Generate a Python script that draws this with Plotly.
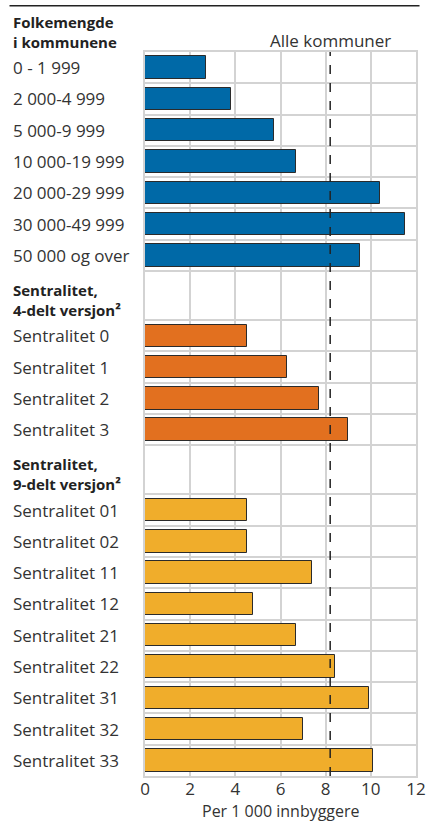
import plotly.graph_objects as go

# --- data -------------------------------------------------------------
pop_header = ["Folkemengde", "i kommunene"]
pop_labels = ["0 - 1 999", "2 000-4 999", "5 000-9 999", "10 000-19 999",
              "20 000-29 999", "30 000-49 999", "50 000 og over"]
pop_values = [2.7, 3.8, 5.7, 6.7, 10.4, 11.5, 9.5]

sent4_header = ["Sentralitet,", "4-delt versjon²"]
sent4_labels = ["Sentralitet 0", "Sentralitet 1", "Sentralitet 2", "Sentralitet 3"]
sent4_values = [4.5, 6.3, 7.7, 9.0]

sent9_header = ["Sentralitet,", "9-delt versjon²"]
sent9_labels = ["Sentralitet 01", "Sentralitet 02", "Sentralitet 11",
                "Sentralitet 12", "Sentralitet 21", "Sentralitet 22",
                "Sentralitet 31", "Sentralitet 32", "Sentralitet 33"]
sent9_values = [4.5, 4.5, 7.4, 4.8, 6.7, 8.4, 9.9, 7.0, 10.1]

all_avg = 8.2
avg_label = "Alle kommuner"
x_ticks = [0, 2, 4, 6, 8, 10, 12]
x_title = "Per 1 000 innbyggere"

groups = [
    (pop_header, pop_labels, pop_values, "#0069a7"),
    (sent4_header, sent4_labels, sent4_values, "#e2701f"),
    (sent9_header, sent9_labels, sent9_values, "#f0ad2b"),
]

# --- layout helpers ----------------------------------------------------
HEADER_ROWS = 1.57   # height of a header slot, in rows
FONT = "Open Sans"
TXT = "#333333"
GRID = "#d3d3d3"
LABEL_X = -0.493     # left edge of the row labels, in paper units

fig = go.Figure()
boundaries = []
headers = []
pos = 0.0
for i, (header, labels, values, color) in enumerate(groups):
    if i > 0:
        pos += HEADER_ROWS
        boundaries.append(pos)
    headers.append((header, pos))
    ys = []
    for lab in labels:
        ys.append(pos + 0.5)
        pos += 1
        boundaries.append(pos)
    fig.add_trace(go.Bar(
        y=ys, x=values, orientation="h", width=0.72,
        marker=dict(color=color, line=dict(color="#2b2b2b", width=1)),
        showlegend=False, hoverinfo="x",
    ))
    for y, lab in zip(ys, labels):
        fig.add_annotation(x=LABEL_X, xref="paper", y=y, yref="y",
                           text=lab, showarrow=False, xanchor="left",
                           font=dict(family=FONT, size=17, color=TXT))
total = pos

# bold group headers, two lines sitting just above each group
for header, ybot in headers:
    fig.add_annotation(x=LABEL_X, xref="paper", y=ybot, yref="y",
                       yshift=20, text="<b>%s</b>" % "<br>".join(header),
                       showarrow=False, xanchor="left", yanchor="middle",
                       align="left",
                       font=dict(family=FONT, size=15, color="#222222"))

# dashed average line + its label
fig.add_shape(type="line", x0=all_avg, x1=all_avg, xref="x",
              y0=0, y1=1, yref="paper",
              line=dict(color="#222222", width=1.5, dash="dash"), layer="above")
fig.add_annotation(x=all_avg, xref="x", y=1, yref="paper", yshift=12,
                   text=avg_label, showarrow=False, yanchor="middle",
                   font=dict(family=FONT, size=17, color=TXT))

# x axis title, placed by hand (the axis title gets clamped to the margin)
fig.add_annotation(x=0.5, xref="paper", y=0, yref="paper", yshift=-35,
                   text=x_title, showarrow=False, yanchor="middle",
                   font=dict(family=FONT, size=16, color=TXT))

# black rule at the top
fig.add_shape(type="line", x0=-0.5, x1=1.013, xref="paper",
              y0=1.064, y1=1.064, yref="paper",
              line=dict(color="#222222", width=1.5))

fig.update_layout(
    width=428, height=821,
    margin=dict(l=145, r=12, t=52, b=45),
    paper_bgcolor="white", plot_bgcolor="white",
    bargap=0,
    font=dict(family=FONT, size=17, color=TXT),
    xaxis=dict(range=[0, 12], tickvals=x_ticks, showgrid=True,
               gridcolor=GRID, gridwidth=2, zeroline=False,
               showline=True, linecolor=GRID, linewidth=2, mirror=True,
               ticks="", ticklabelstandoff=-3, automargin=False,
               tickfont=dict(family=FONT, size=17, color=TXT)),
    yaxis=dict(range=[total, 0], tickvals=boundaries, showticklabels=False,
               showgrid=True, gridcolor=GRID, gridwidth=2, zeroline=False,
               showline=True, linecolor=GRID, linewidth=2, mirror=True,
               ticks="", automargin=False),
)

# the page body has a default 8px margin; drop it so the figure fills the window
fig.write_html("out.html", config={"displayModeBar": False},
               post_script="document.body.style.margin='0';"
                           "document.body.style.overflow='hidden';")
